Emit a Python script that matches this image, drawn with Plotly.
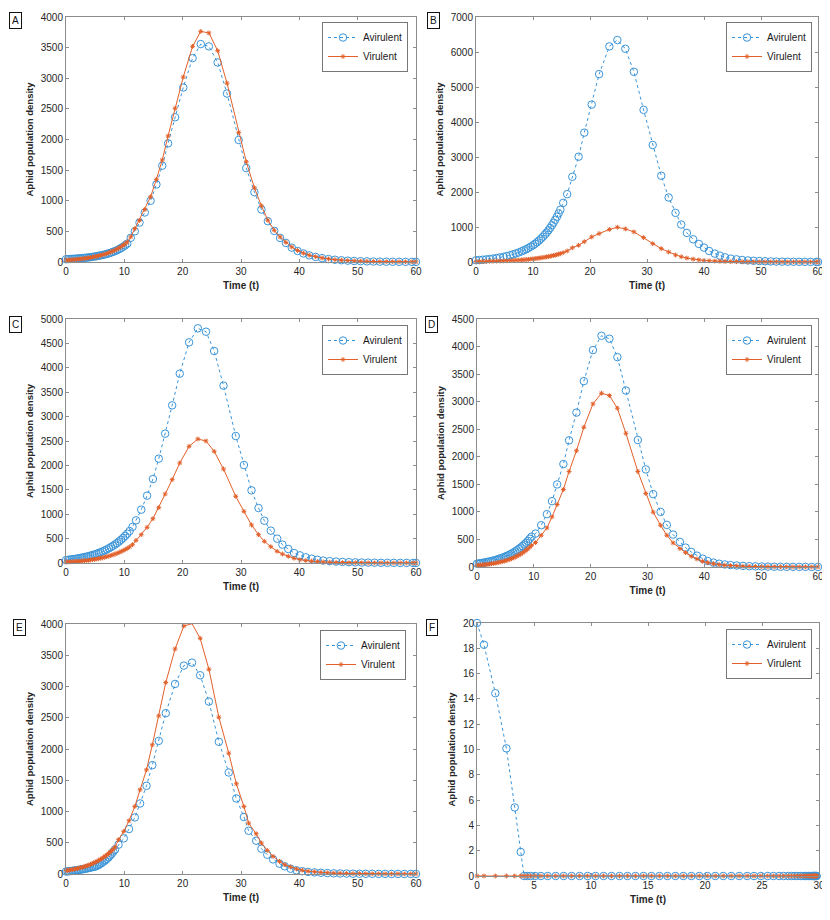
import plotly.graph_objects as go

# ---------------- DATA ----------------

# ---- panel A
a_t = [0, 0.35, 0.7, 1.05, 1.4, 1.75, 2.1, 2.45, 2.8, 3.15, 3.5, 3.85, 4.2, 4.55, 4.9, 5.25,
       5.6, 5.95, 6.3, 6.65, 7.0, 7.35, 7.7, 8.05, 8.4, 8.75, 9.1, 9.45, 9.8, 10.15, 10.5,
       11.1, 11.8, 12.6, 13.5, 14.5, 15.5, 16.5, 17.5, 18.7, 20.1, 21.7, 23.1, 24.5, 26.0,
       27.6, 29.6, 30.9, 32.3, 33.5, 34.6, 35.7, 36.7, 37.7, 38.7, 39.7, 40.7, 41.7, 42.8,
       43.9, 45.0, 46.1, 47.2, 48.3, 49.4, 50.5, 51.6, 52.7, 53.8, 54.9, 56.0, 57.1, 58.2,
       59.3, 60]
a_avir = [45, 47, 49, 51, 53, 56, 58, 61, 64, 67, 71, 75, 79, 84, 89, 95,
          101, 108, 115, 123, 132, 142, 153, 165, 178, 193, 210, 229, 250, 273, 300,
          395, 502, 644, 808, 1000, 1266, 1572, 1937, 2363, 2849, 3329, 3558, 3520, 3258,
          2750, 1992, 1533, 1140, 857, 666, 508, 393, 311, 235, 180, 140, 108, 82,
          63, 48, 37, 29, 22, 17, 13, 10, 8, 6, 5, 4, 3, 2,
          2, 1]
a_vir = [30, 32, 34, 37, 40, 43, 46, 50, 54, 58, 63, 68, 73, 79, 86, 93,
         101, 109, 118, 128, 139, 151, 164, 178, 194, 211, 230, 251, 274, 299, 327,
         410, 545, 680, 857, 1065, 1350, 1665, 2057, 2510, 3020, 3520, 3765, 3740, 3450,
         2920, 2117, 1637, 1211, 917, 682, 518, 409, 320, 245, 188, 145, 112, 86,
         66, 50, 39, 30, 23, 18, 14, 11, 8, 6, 5, 4, 3, 2,
         2, 1]

# ---- panel B
b_t = [0, 0.6, 1.2, 1.8, 2.4, 3.0, 3.6, 4.2, 4.8, 5.4, 6.0, 6.5, 7.0, 7.5, 8.0, 8.4, 8.8,
       9.2, 9.6, 10.0, 10.35, 10.7, 11.05, 11.4, 11.75, 12.1, 12.4, 12.7, 13.0, 13.3, 13.6,
       13.9, 14.2, 14.5, 14.8, 15.3, 16.0, 16.9, 18.0, 19.0, 20.3, 21.6, 23.4, 24.8, 26.2,
       27.7, 29.4, 31.0, 32.5, 33.8, 35.0, 36.0, 37.0, 38.1, 39.1, 40.0, 40.9, 41.9, 42.8,
       43.7, 44.7, 45.7, 46.7, 47.7, 48.7, 49.7, 50.7, 51.7, 52.7, 53.7, 54.7, 55.7, 56.7,
       57.7, 58.7, 59.7, 60]
b_avir = [50, 57, 66, 75, 86, 98, 113, 129, 148, 169, 194, 217, 244, 273, 305, 334, 365,
          400, 438, 479, 520, 564, 613, 666, 723, 785, 843, 906, 973, 1045, 1122,
          1205, 1294, 1390, 1493, 1690, 1939, 2435, 3008, 3696, 4498, 5368, 6160, 6342, 6093,
          5434, 4346, 3343, 2464, 1843, 1404, 1070, 831, 649, 516, 411, 315, 239, 181,
          134, 96, 76, 58, 45, 35, 27, 21, 16, 12, 10, 8, 6, 5,
          4, 3, 2, 2]
b_vir = [12, 14, 15, 17, 19, 22, 25, 28, 31, 35, 40, 44, 49, 54, 60, 65, 70,
         76, 83, 90, 97, 104, 111, 119, 128, 137, 146, 155, 164, 175, 186,
         198, 211, 225, 240, 268, 315, 405, 478, 580, 716, 812, 930, 993, 946,
         860, 697, 525, 382, 285, 200, 150, 112, 82, 60, 45, 34, 26, 20,
         15, 11, 9, 7, 5, 4, 3, 3, 2, 2, 1, 1, 1, 1,
         1, 1, 1, 1]

# ---- panel C
c_t = [0, 0.35, 0.7, 1.05, 1.4, 1.75, 2.1, 2.45, 2.8, 3.15, 3.5, 3.85, 4.2, 4.55, 4.9, 5.25,
       5.6, 5.95, 6.3, 6.65, 7.0, 7.35, 7.7, 8.05, 8.4, 8.75, 9.1, 9.45, 9.8, 10.15, 10.5,
       10.9, 11.4, 12.0, 12.9, 13.9, 14.9, 15.9, 17.0, 18.2, 19.5, 21.1, 22.6, 24.0, 25.4,
       27.0, 29.1, 30.5, 31.8, 33.0, 34.0, 35.1, 36.2, 37.1, 38.1, 39.1, 40.1, 41.1, 42.1,
       43.1, 44.1, 45.2, 46.3, 47.4, 48.5, 49.6, 50.7, 51.8, 52.9, 54.0, 55.1, 56.2, 57.3,
       58.4, 59.5, 60]
c_avir = [60, 65, 70, 76, 82, 88, 95, 103, 111, 120, 130, 140, 151, 163, 176, 190,
          205, 221, 239, 258, 279, 301, 325, 351, 379, 409, 442, 477, 515, 556, 600,
          655, 740, 874, 1093, 1380, 1721, 2138, 2650, 3231, 3880, 4522, 4809, 4740, 4344,
          3634, 2602, 2008, 1489, 1127, 867, 663, 499, 376, 287, 205, 157, 116, 89,
          66, 50, 38, 29, 22, 17, 13, 10, 8, 6, 5, 4, 3, 2,
          2, 1, 1]
c_vir = [20, 22, 24, 27, 29, 32, 35, 39, 43, 47, 51, 56, 62, 68, 75, 82,
         90, 99, 108, 118, 129, 141, 154, 168, 183, 199, 216, 235, 255, 277, 300,
         330, 375, 464, 580, 731, 908, 1134, 1414, 1708, 2049, 2391, 2541, 2500, 2288,
         1926, 1366, 1059, 779, 581, 444, 335, 239, 184, 137, 96, 68, 50, 37,
         27, 20, 15, 11, 8, 6, 5, 4, 3, 2, 2, 1, 1, 1,
         1, 0.5, 0.5]

# ---- panel D
d_t = [0, 0.32, 0.64, 0.96, 1.28, 1.6, 1.92, 2.24, 2.56, 2.88, 3.2, 3.52, 3.84, 4.16, 4.48,
       4.8, 5.12, 5.44, 5.76, 6.08, 6.4, 6.72, 7.04, 7.36, 7.68, 8.0, 8.32, 8.64, 8.96, 9.28,
       9.6, 10.3, 11.3, 12.3, 13.2, 14.1, 15.2, 16.2, 17.5, 18.8, 20.4, 21.9, 23.3, 24.7,
       26.2, 28.3, 29.7, 31.0, 32.3, 33.4, 34.5, 35.7, 36.7, 37.7, 38.7, 39.7, 40.6, 41.6,
       42.6, 43.6, 44.6, 45.7, 46.8, 47.9, 49.0, 50.1, 51.2, 52.3, 53.4, 54.5, 55.6, 56.7,
       57.8, 58.9, 60]
d_avir = [60, 64, 70, 75, 81, 87, 93, 101, 108, 117, 126, 135, 146, 157, 169,
          182, 196, 210, 227, 244, 262, 283, 304, 328, 353, 380, 409, 440, 474, 511,
          550, 606, 758, 958, 1195, 1498, 1868, 2298, 2802, 3372, 3936, 4196, 4142, 3808,
          3202, 2304, 1771, 1322, 1000, 764, 588, 455, 352, 273, 206, 152, 109, 79,
          60, 46, 35, 27, 20, 15, 12, 9, 7, 5, 4, 3, 3, 2,
          2, 1, 1]
d_vir = [30, 33, 36, 39, 42, 46, 50, 54, 59, 65, 70, 77, 84, 91, 99,
         108, 118, 128, 140, 152, 166, 181, 197, 215, 234, 255, 278, 303, 330, 360,
         392, 443, 576, 709, 910, 1134, 1407, 1734, 2110, 2535, 2959, 3153, 3111, 2881,
         2426, 1734, 1334, 995, 758, 576, 437, 334, 261, 194, 146, 103, 79, 58,
         44, 33, 25, 19, 14, 11, 8, 6, 5, 4, 3, 2, 2, 1,
         1, 1, 1]

# ---- panel E
e_t = [0, 0.28, 0.56, 0.84, 1.12, 1.4, 1.68, 1.96, 2.24, 2.52, 2.8, 3.08, 3.36, 3.64, 3.92,
       4.2, 4.48, 4.76, 5.04, 5.32, 5.6, 5.88, 6.16, 6.44, 6.72, 7.0, 7.28, 7.56, 7.84, 8.12,
       8.4, 9.0, 9.9, 10.8, 11.8, 12.7, 13.8, 14.8, 15.9, 17.1, 18.7, 20.2, 21.6, 23.0, 24.5,
       26.2, 27.9, 29.2, 30.5, 31.3, 32.6, 33.5, 34.5, 35.5, 36.6, 37.5, 38.5, 39.5, 40.5,
       41.5, 42.6, 43.7, 44.8, 45.9, 47.0, 48.1, 49.2, 50.3, 51.4, 52.5, 53.6, 54.7, 55.8,
       56.9, 58.0, 59.1, 60]
e_avir = [40, 42, 45, 48, 51, 55, 58, 62, 66, 70, 75, 79, 85, 90, 96,
          102, 109, 114, 120, 132, 146, 162, 179, 198, 218, 241, 266, 294, 324, 358,
          389, 469, 570, 719, 905, 1129, 1411, 1742, 2130, 2573, 3041, 3334, 3382, 3180, 2759,
          2115, 1624, 1209, 911, 692, 533, 405, 309, 234, 165, 123, 85, 59, 45,
          34, 26, 20, 15, 11, 9, 7, 5, 4, 3, 3, 2, 2, 1,
          1, 1, 1, 1]
e_vir = [55, 59, 63, 67, 72, 77, 83, 89, 95, 102, 109, 116, 125, 134, 143,
         154, 165, 177, 190, 203, 218, 233, 249, 267, 285, 305, 327, 350, 374, 401,
         431, 549, 682, 852, 1081, 1348, 1667, 2067, 2530, 3063, 3601, 3968, 4005, 3771, 3276,
         2509, 1933, 1443, 1081, 815, 644, 495, 378, 282, 202, 149, 112, 80, 60,
         45, 34, 26, 19, 14, 11, 8, 6, 5, 4, 3, 2, 2, 1,
         1, 1, 1, 1]

# ---- panel F
f_t = [0, 0.61, 1.61, 2.58, 3.31, 3.83, 4.13, 4.4, 4.7, 5.1, 5.6, 6.2, 6.9, 7.6, 8.3, 9.0,
       9.7, 10.4, 11.1, 11.8, 12.5, 13.2, 13.9, 14.6, 15.3, 16.0, 16.7, 17.4, 18.1, 18.8,
       19.5, 20.2, 20.9, 21.6, 22.3, 23.0, 23.7, 24.3, 24.9, 25.5, 26.0, 26.5, 26.9, 27.3,
       27.6, 27.9, 28.15, 28.4, 28.6, 28.8, 28.95, 29.1, 29.2, 29.3, 29.4, 29.5, 29.55, 29.6,
       29.65, 29.7, 29.75, 29.8]
f_avir = [20, 18.28, 14.45, 10.09, 5.42, 1.9] + [0] * 56
f_vir = [0] * 62

# tick values
x_ticks_60 = [0, 10, 20, 30, 40, 50, 60]
x_ticks_30 = [0, 5, 10, 15, 20, 25, 30]

# ---------------- LAYOUT ----------------
# page body has an 8px margin, so the figure is drawn 8px in from the window corner
OFF = 8
W, H = 830 - OFF, 920 - OFF
BLUE = "#3a94d8"
ORANGE = "#e2602a"
AXCOL = "#8c8c8c"
FONT = "Liberation Sans, Arial, sans-serif"


def px(x):
    return (x - OFF) / W


def py(y):
    return 1 - (y - OFF) / H


panels = [
    # label, t, avir, vir, (left, right, top, bottom) px, y max, y step, x ticks, label centre px, legend (right, top) px
    ("A", a_t, a_avir, a_vir, (66, 416, 17, 262), 4000, 500, x_ticks_60, (15, 20), (408, 22)),
    ("B", b_t, b_avir, b_vir, (476, 818, 17, 262), 7000, 1000, x_ticks_60, (433, 20), (812, 22)),
    ("C", c_t, c_avir, c_vir, (66, 416, 319, 563), 5000, 500, x_ticks_60, (15, 324), (408, 325)),
    ("D", d_t, d_avir, d_vir, (477, 818, 319, 567), 4500, 500, x_ticks_60, (431, 324), (812, 325)),
    ("E", e_t, e_avir, e_vir, (66, 416, 624, 874), 4000, 500, x_ticks_60, (19, 627), (406, 630)),
    ("F", f_t, f_avir, f_vir, (477, 819, 623, 876), 20, 2, x_ticks_30, (432, 627), (812, 629)),
]

fig = go.Figure()
layout = dict(
    width=W, height=H,
    margin=dict(l=0, r=0, t=0, b=0),
    paper_bgcolor="white",
    plot_bgcolor="white",
    font=dict(family=FONT, size=10, color="#262626"),
    annotations=[],
)

for i, (lab, t, avir, vir, box, ymax, ystep, xt, labpos, legpos) in enumerate(panels):
    n = i + 1
    xa = "x" if n == 1 else "x%d" % n
    ya = "y" if n == 1 else "y%d" % n
    leg = "legend" if n == 1 else "legend%d" % n
    l, r, top, bot = box

    fig.add_trace(go.Scatter(
        x=t, y=avir, name="Avirulent", mode="lines+markers",
        xaxis=xa, yaxis=ya, legend=leg, cliponaxis=False,
        line=dict(color=BLUE, width=1, dash="dot"),
        marker=dict(symbol="circle-open", size=7.5, color=BLUE, line=dict(width=1, color=BLUE)),
    ))
    fig.add_trace(go.Scatter(
        x=t, y=vir, name="Virulent", mode="lines+markers",
        xaxis=xa, yaxis=ya, legend=leg, cliponaxis=False,
        line=dict(color=ORANGE, width=1),
        marker=dict(symbol="asterisk-open", size=4, color=ORANGE, line=dict(width=1, color=ORANGE)),
    ))

    axis_common = dict(
        showline=True, linecolor=AXCOL, linewidth=1, mirror="ticks",
        ticks="inside", ticklen=3, tickcolor=AXCOL, tickwidth=1,
        showgrid=False, zeroline=False, automargin=False,
        ticklabeloverflow="allow",
        tickfont=dict(size=10, color="#262626"),
    )
    layout["xaxis" if n == 1 else "xaxis%d" % n] = dict(
        axis_common,
        domain=[px(l), px(r)], anchor=ya,
        range=[xt[0], xt[-1]], tickvals=xt,
        title=dict(text="<b>Time (t)</b>", font=dict(size=10), standoff=5),
    )
    layout["yaxis" if n == 1 else "yaxis%d" % n] = dict(
        axis_common,
        domain=[py(bot), py(top)], anchor=xa,
        range=[0, ymax], dtick=ystep,
        title=dict(text="<b>Aphid population density</b>", font=dict(size=9.5), standoff=5),
    )
    layout[leg] = dict(
        x=px(legpos[0]), y=py(legpos[1]), xanchor="right", yanchor="top",
        bgcolor="white", bordercolor="#777777", borderwidth=1,
        font=dict(size=10, color="#1a1a1a"), tracegroupgap=0, itemwidth=30,
    )
    layout["annotations"].append(dict(
        text=lab, x=px(labpos[0]), y=py(labpos[1]), xref="paper", yref="paper",
        showarrow=False, font=dict(size=10, color="#111111"),
        bordercolor="#111111", borderwidth=1, borderpad=2, bgcolor="white",
        xanchor="center", yanchor="middle",
    ))

fig.update_layout(**layout)
fig.write_html("out.html")
